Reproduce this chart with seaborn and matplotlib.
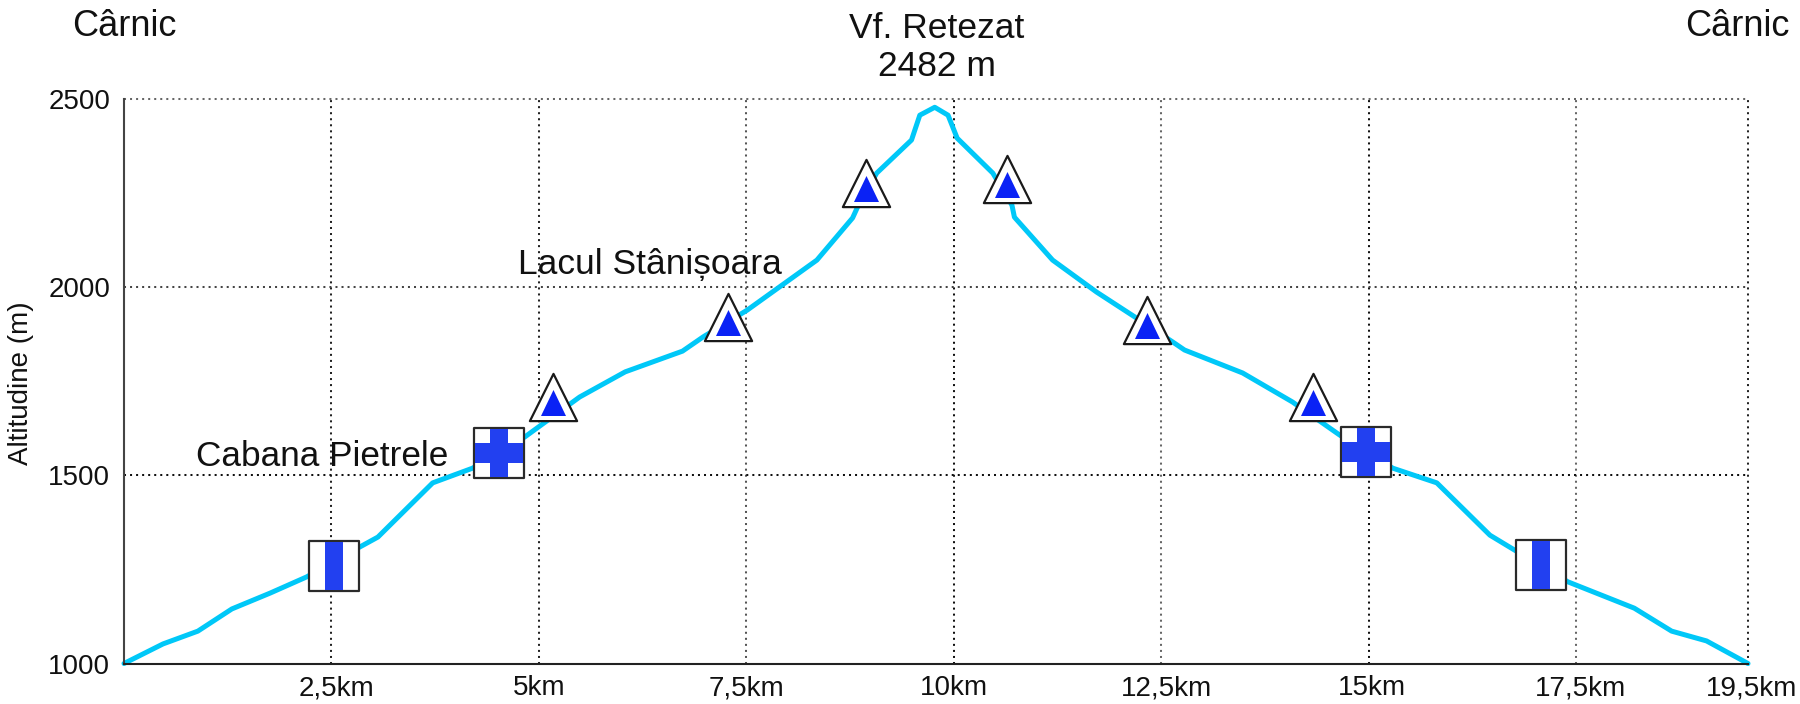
import numpy as np
import pandas as pd
import matplotlib
matplotlib.use('Agg')
import matplotlib.pyplot as plt
from matplotlib.path import Path
from matplotlib.transforms import ScaledTranslation
import seaborn as sns

# profil traseu
dist_km = [0, 0.47, 0.89, 1.30, 1.76, 2.20, 2.82, 3.06, 3.72, 4.20, 4.83, 5.49, 6.04, 6.73, 6.98, 7.51,
           8.35, 8.78, 8.84, 9.07, 9.49, 9.59, 9.77, 9.93, 10.04, 10.47, 10.70, 10.73, 11.19, 11.72,
           12.18, 12.64, 12.78, 13.48, 14.08, 14.65, 15.29, 15.82, 16.46, 16.76, 17.40, 18.20, 18.65,
           19.07, 19.57]
altitude = [1000, 1052, 1086, 1145, 1187, 1230, 1307, 1336, 1480, 1519, 1602, 1708, 1775, 1830, 1868, 1939,
            2072, 2184, 2213, 2303, 2391, 2457, 2478, 2457, 2396, 2303, 2218, 2186, 2072, 1987,
            1921, 1854, 1833, 1772, 1695, 1607, 1519, 1480, 1341, 1301, 1217, 1147, 1086,
            1060, 1000]

# marcaje
tri_km = [5.17, 7.28, 8.94, 10.64, 12.33, 14.33]
tri_alt = [1707, 1922, 2278, 2287, 1913, 1708]
cross_km = [4.52, 14.97]
cross_alt = [1559, 1562]
bar_km = [2.53, 17.08]
bar_alt = [1259, 1263]

x_ticks = [2.5, 5, 7.5, 10, 12.5, 15, 17.5, 19.57]
x_labels = ['2,5km', '5km', '7,5km', '10km', '12,5km', '15km', '17,5km', '19,5km']
y_ticks = [1000, 1500, 2000, 2500]

df = pd.DataFrame({'km': dist_km, 'alt': altitude})

sns.set_theme(style='white')
plt.rcParams['font.family'] = ['Liberation Sans', 'DejaVu Sans']

W, H = 1800, 704
fig = plt.figure(figsize=(W / 100, H / 100), dpi=100)
ax = fig.add_axes([124 / W, (H - 663.5) / H, 1624 / W, 564.5 / H])

# linii punctate
dots = (0, (1.0, 2.0))
v_colors = ['#222222', '#222222', '#555555', '#111111', '#666666', '#111111', '#666666', '#222222']
for xv, c in zip(x_ticks, v_colors):
    ax.axvline(xv, color=c, lw=1.45, ls=dots, zorder=1, clip_on=False)
for yv, c in zip(y_ticks[1:], ['#111111', '#444444', '#666666']):
    ax.axhline(yv, color=c, lw=1.45, ls=dots, zorder=1, clip_on=False)

sns.lineplot(data=df, x='km', y='alt', color='#00c8f8', lw=3.6, ax=ax, zorder=2, clip_on=False,
             solid_joinstyle='round')


def marker_path(pts):
    # primele doua puncte tin scara markerului la acelasi patrat
    verts = [(-1, -1), (1, 1)] + pts + [pts[0]]
    codes = [Path.MOVETO, Path.MOVETO, Path.MOVETO] + [Path.LINETO] * (len(pts) - 1) + [Path.CLOSEPOLY]
    return Path(verts, codes)


inner_tri = marker_path([(0, 0.3), (-0.5, -0.74), (0.5, -0.74)])
stripe = marker_path([(-0.36, -0.96), (0.36, -0.96), (0.36, 0.96), (-0.36, 0.96)])
a, b, e = 0.37, 0.4, 0.97
cross = marker_path([(-a, e), (a, e), (a, b), (e, b), (e, -b), (a, -b), (a, -e), (-a, -e),
                     (-a, -b), (-e, -b), (-e, b), (-a, b)])

BOX = 36.0 ** 2
TRI = 34.0 ** 2
sns.scatterplot(x=tri_km, y=tri_alt, marker='^', s=TRI, color='white', edgecolor='#1a1a1a', linewidth=1.6,
                ax=ax, zorder=3, clip_on=False)
sns.scatterplot(x=tri_km, y=tri_alt, marker=inner_tri, s=36.0 ** 2, color='#0a22f5', linewidth=0, ax=ax, zorder=4)
sns.scatterplot(x=cross_km + bar_km, y=cross_alt + bar_alt, marker='s', s=BOX, color='white', edgecolor='#2a2a2a',
                linewidth=1.6, ax=ax, zorder=3)
sns.scatterplot(x=cross_km, y=cross_alt, marker=cross, s=BOX, color='#2240f0', linewidth=0, ax=ax, zorder=4)
sns.scatterplot(x=bar_km, y=bar_alt, marker=stripe, s=BOX, color='#2240f0', linewidth=0, ax=ax, zorder=4)

ax.set_xlim(0, 19.57)
ax.set_ylim(1000, 2500)
ax.set_xticks(x_ticks)
ax.set_xticklabels(x_labels)
ax.set_yticks(y_ticks)
ax.tick_params(axis='x', length=0, pad=8.5, labelsize=20, labelcolor='#111111')
ax.tick_params(axis='y', length=0, pad=10, labelsize=20, labelcolor='#111111')
ax.set_xlabel('')
ax.set_ylabel('')

# etichetele nu sunt chiar centrate pe linii
label_shift = [5, 0, 0, 0, 5, 3, 4, 4]
for lab, dx in zip(ax.get_xticklabels(), label_shift):
    lab.set_transform(lab.get_transform() + ScaledTranslation(dx / 100, 0, fig.dpi_scale_trans))

for side in ['top', 'right']:
    ax.spines[side].set_visible(False)
ax.spines['left'].set_color('#444444')
ax.spines['left'].set_linewidth(1.5)
ax.spines['bottom'].set_color('#222222')
ax.spines['bottom'].set_linewidth(1.5)


def put_text(px, py, txt, size, **kw):
    fig.text(px / W, 1 - py / H, txt, fontsize=size, color='#111111', **kw)


put_text(124, 26, 'Cârnic', 26, ha='center', va='center')
put_text(1737, 26, 'Cârnic', 26, ha='center', va='center')
put_text(937, 29, 'Vf. Retezat', 25.5, ha='center', va='center')
put_text(937, 67, '2482 m', 25.5, ha='center', va='center')
put_text(196, 466, 'Cabana Pietrele', 25.3, ha='left', va='baseline')
put_text(518, 274, 'Lacul Stânișoara', 25.5, ha='left', va='baseline')
put_text(21, 383, 'Altitudine (m)', 20, ha='center', va='center', rotation=90)

fig.savefig('out.png', dpi=100, facecolor='white')
